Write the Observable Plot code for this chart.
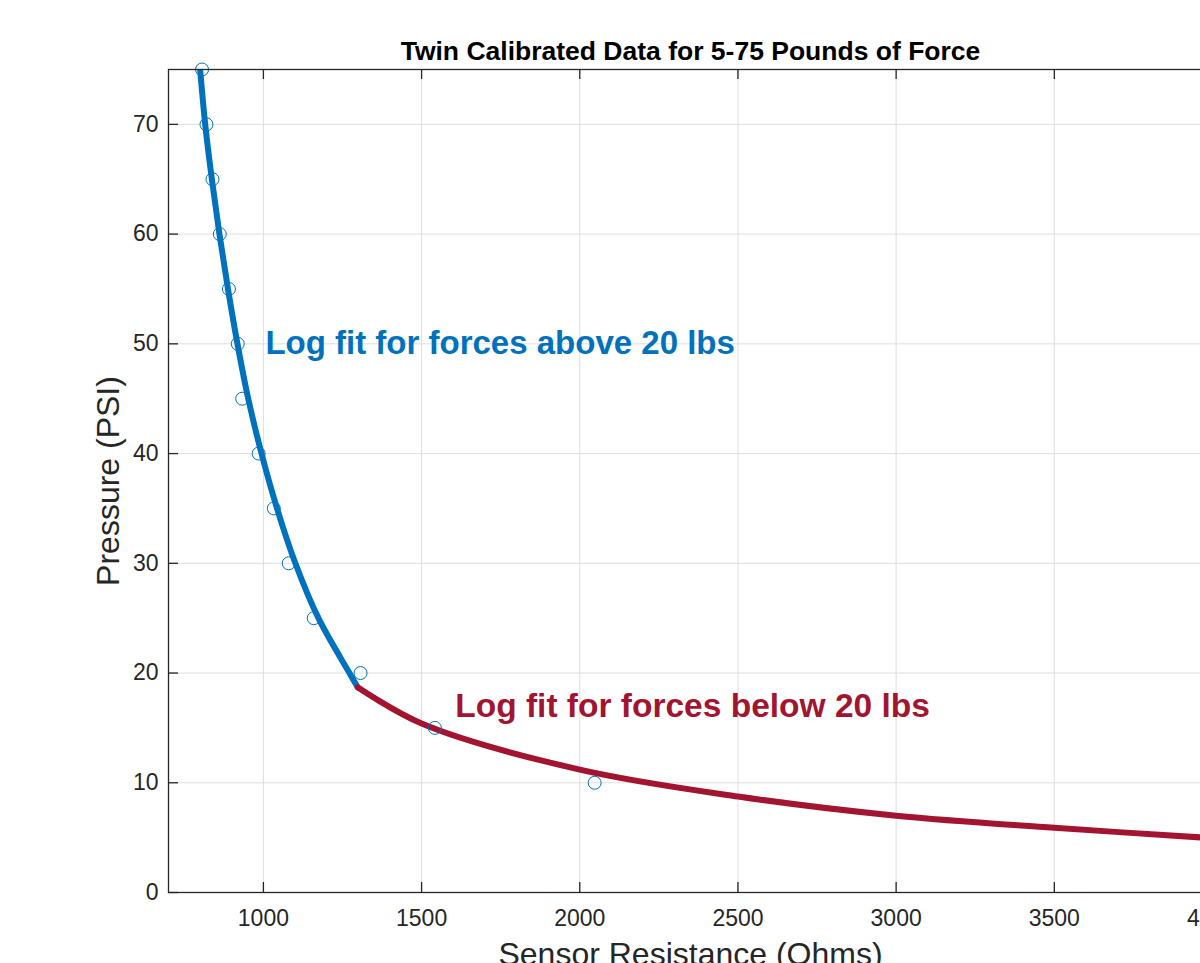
<!DOCTYPE html>
<html>
<head>
<meta charset="utf-8">
<script src="https://cdn.jsdelivr.net/npm/d3@7"></script>
<script src="https://cdn.jsdelivr.net/npm/@observablehq/plot@0.6"></script>
<style>
  html, body { margin: 0; padding: 0; background: #fff; overflow: hidden; width: 1200px; height: 963px; }
  #chart { width: 1200px; height: 963px; overflow: hidden; }
  #chart svg { display: block; max-width: none !important; }
</style>
</head>
<body>
<div id="chart"></div>
<script>
// ---- Data ----
// Measured calibration points
const pressure   = [75, 70, 65, 60, 55, 50, 45, 40, 35, 30, 25, 20, 15, 10];
const resistance = [806, 820, 839, 862, 891, 919, 933, 985, 1033, 1080, 1159, 1307, 1542, 2047];

// Log fit for forces above 20 lbs (blue curve)
const fitHighR = [800, 816, 837, 861, 888, 918, 952, 994, 1043, 1101, 1174, 1272, 1298];
const fitHighP = [75, 70, 65, 60, 55, 50, 45, 40, 35, 30, 25, 20, 18.7];

// Log fit for forces below 20 lbs (red curve)
const fitLowR = [1298, 1500, 2000, 2500, 3000, 3500, 4000];
const fitLowP = [18.7, 15.4, 11.2, 8.75, 7.0, 5.9, 4.95];

// Axis ticks
const xTicks = [1000, 1500, 2000, 2500, 3000, 3500, 4000];
const xTickLabels = ["1000", "1500", "2000", "2500", "3000", "3500", "4000"];
const yTicks = [0, 10, 20, 30, 40, 50, 60, 70];
const yTickLabels = ["0", "10", "20", "30", "40", "50", "60", "70"];

// Texts
const titleText = "Twin Calibrated Data for 5-75 Pounds of Force";
const xLabel = "Sensor Resistance (Ohms)";
const yLabel = "Pressure (PSI)";
const noteHigh = {x: 1000, y: 50, text: "Log fit for forces above 20 lbs"};
const noteLow  = {x: 1600, y: 17, text: "Log fit for forces below 20 lbs"};

// ---- Build tables ----
const measured = pressure.map((p, i) => ({r: resistance[i], p}));
const highFit = fitHighR.map((r, i) => ({r, p: fitHighP[i]}));
const lowFit = fitLowR.map((r, i) => ({r, p: fitLowP[i]}));

// ---- Layout ----
const W = 1230, H = 963;
const mL = 168, mR = 18, mT = 69, mB = 71;
const plotW = W - mL - mR;
const plotH = H - mT - mB;

const BLUE = "#0072BD", RED = "#A2142F", AX = "#262626", GRID = "#dedede";
const FONT = "'Liberation Sans', Arial, Helvetica, sans-serif";

const chart = Plot.plot({
  width: W,
  height: H,
  marginLeft: mL, marginRight: mR, marginTop: mT, marginBottom: mB,
  style: {fontFamily: FONT, background: "#fff", maxWidth: "none", height: H + "px", width: W + "px"},
  x: {domain: [700, 4000], axis: null},
  y: {domain: [0, 75], axis: null},
  marks: [
    Plot.gridX(xTicks, {stroke: GRID, strokeOpacity: 1, strokeWidth: 1}),
    Plot.gridY(yTicks, {stroke: GRID, strokeOpacity: 1, strokeWidth: 1}),
    Plot.line(highFit, {x: "r", y: "p", stroke: BLUE, strokeWidth: 6, curve: "catmull-rom", clip: true}),
    Plot.line(lowFit, {x: "r", y: "p", stroke: RED, strokeWidth: 6, curve: "catmull-rom", clip: true}),
    Plot.dot(measured, {x: "r", y: "p", r: 6.5, stroke: BLUE, strokeWidth: 1, fill: "none"}),
    Plot.frame({stroke: AX, strokeWidth: 1.3}),
    // inward ticks
    Plot.tickX(xTicks, {x: d => d, stroke: AX, strokeWidth: 1.3, insetTop: plotH - 10}),
    Plot.tickX(xTicks, {x: d => d, stroke: AX, strokeWidth: 1.3, insetBottom: plotH - 10}),
    Plot.tickY(yTicks, {y: d => d, stroke: AX, strokeWidth: 1.3, insetRight: plotW - 10}),
    // tick labels
    Plot.text(xTicks, {x: d => d, text: (d, i) => xTickLabels[i], frameAnchor: "bottom", lineAnchor: "top", dy: 17, fontSize: 23, fill: AX}),
    Plot.text(yTicks, {y: d => d, text: (d, i) => yTickLabels[i], frameAnchor: "left", textAnchor: "end", dx: -10, fontSize: 23, fill: AX}),
    // annotations
    Plot.text([noteHigh], {x: "x", y: "y", text: "text", textAnchor: "start", dx: 2, fontSize: 33, fontWeight: "bold", fill: BLUE}),
    Plot.text([noteLow], {x: "x", y: "y", text: "text", textAnchor: "start", dx: 2, fontSize: 33.5, fontWeight: "bold", fill: RED}),
    // title and axis labels
    Plot.text([titleText], {text: d => d, frameAnchor: "top", textAnchor: "middle", lineAnchor: "bottom", dy: -10, fontSize: 26.5, fontWeight: "bold", fill: "#000"}),
    Plot.text([xLabel], {text: d => d, frameAnchor: "bottom", textAnchor: "middle", lineAnchor: "bottom", dy: 72, fontSize: 32, fill: AX}),
    Plot.text([yLabel], {text: d => d, frameAnchor: "left", textAnchor: "middle", rotate: -90, dx: -60, fontSize: 32, fill: AX})
  ]
});

document.getElementById("chart").appendChild(chart);
</script>
</body>
</html>
